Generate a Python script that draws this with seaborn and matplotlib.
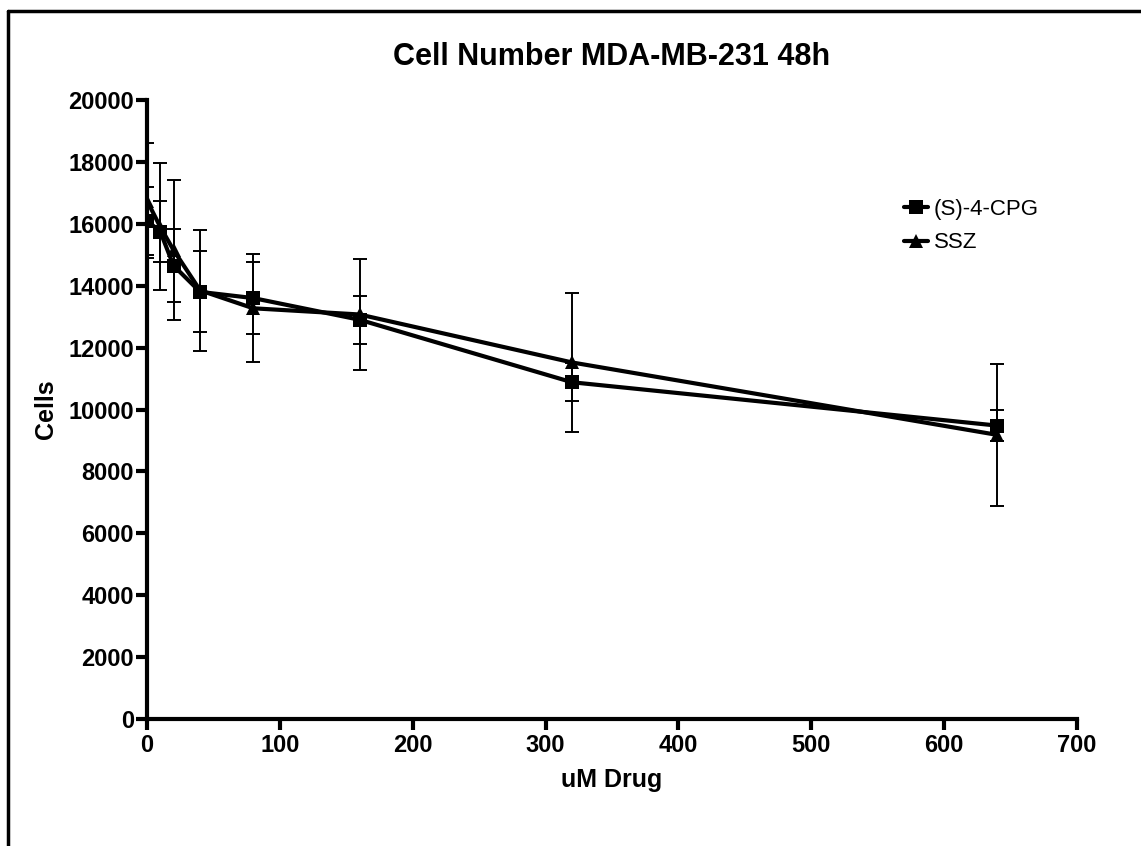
import numpy as np
import pandas as pd
import matplotlib
matplotlib.use('Agg')
import matplotlib.pyplot as plt
from matplotlib.lines import Line2D
import seaborn as sns

# values
doses = [0, 10, 20, 40, 80, 160, 320, 640]
cpg_mean = [16100, 15750, 14650, 13800, 13600, 12900, 10880, 9480]
cpg_sd = [1100, 1000, 1190, 1310, 1160, 780, 620, 500]
ssz_mean = [16750, 15900, 15150, 13850, 13270, 13070, 11520, 9180]
ssz_sd = [1850, 2050, 2250, 1950, 1750, 1800, 2240, 2300]
series_names = ['(S)-4-CPG', 'SSZ']

df = pd.concat([
    pd.DataFrame({'dose': doses, 'cells': cpg_mean, 'sd': cpg_sd, 'drug': series_names[0]}),
    pd.DataFrame({'dose': doses, 'cells': ssz_mean, 'sd': ssz_sd, 'drug': series_names[1]}),
])

sns.set_style('ticks')
plt.rcParams['font.family'] = ['Liberation Sans', 'DejaVu Sans']
plt.rcParams['text.color'] = 'black'
plt.rcParams['axes.labelcolor'] = 'black'
plt.rcParams['xtick.color'] = 'black'
plt.rcParams['ytick.color'] = 'black'

fig = plt.figure(figsize=(11.41, 8.46), dpi=100)
ax = fig.add_axes([0.1288, 0.1501, 0.8151, 0.7317])

# error bars (SD) behind the lines
for name, sub in df.groupby('drug'):
    ax.errorbar(sub['dose'], sub['cells'], yerr=sub['sd'], fmt='none',
                ecolor='black', elinewidth=1.4, capsize=5, capthick=1.4, zorder=2)

sns.lineplot(data=df, x='dose', y='cells', hue='drug', style='drug',
             hue_order=series_names, style_order=series_names,
             palette=['black', 'black'], markers={'(S)-4-CPG': 's', 'SSZ': '^'},
             dashes=False, linewidth=3, markersize=10, markeredgewidth=0,
             ax=ax, zorder=3)

ax.set_xlim(0, 700)
ax.set_ylim(0, 20000)
ax.set_xticks(np.arange(0, 701, 100))
ax.set_yticks(np.arange(0, 20001, 2000))
for lab in ax.get_xticklabels() + ax.get_yticklabels():
    lab.set_fontweight('bold')
ax.tick_params(axis='both', direction='out', length=8, width=3, labelsize=17)
ax.tick_params(axis='x', pad=3)
ax.tick_params(axis='y', pad=1.5)

for side in ['top', 'right']:
    ax.spines[side].set_visible(False)
for side in ['left', 'bottom']:
    ax.spines[side].set_linewidth(3)
    ax.spines[side].set_color('black')

ax.set_title('Cell Number MDA-MB-231 48h', fontsize=22, fontweight='bold', pad=25)
ax.set_xlabel('uM Drug', fontsize=18, fontweight='bold', labelpad=8)
ax.set_ylabel('Cells', fontsize=18, fontweight='bold', labelpad=7)

ax.legend(frameon=False, loc='upper left', bbox_to_anchor=(0.792, 0.872),
          fontsize=16, handlelength=1.1, handletextpad=0.25, labelspacing=0.55,
          title=None)

# outer frame (top and left edges only visible in the reference)
fig.add_artist(Line2D([0.007, 1.0], [0.987, 0.987], color='black', lw=2.5,
                      transform=fig.transFigure))
fig.add_artist(Line2D([0.007, 0.007], [0.0, 0.987], color='black', lw=2.5,
                      transform=fig.transFigure))

fig.savefig('out.png', dpi=100)
